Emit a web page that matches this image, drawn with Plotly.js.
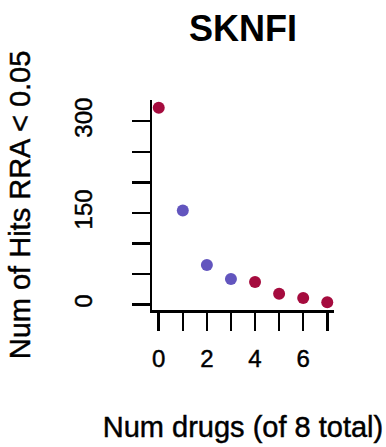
<!DOCTYPE html>
<html>
<head>
<meta charset="utf-8">
<script src="https://cdn.plot.ly/plotly-3.0.1.min.js"></script>
<style>
  html, body { margin: 0; padding: 0; background: #ffffff; }
  #chart { width: 386px; height: 447px; }
  /* slightly heavier strokes for the axis texts */
  #chart .xtick text, #chart .ytick text,
  #chart .xtitle, #chart .ytitle {
    stroke: #000000 !important;
    stroke-width: 0.45px !important;
  }
</style>
</head>
<body>
<div id="chart"></div>
<script>
// Number of drugs a gene is hit in, and how many genes reach RRA < 0.05
const numDrugs = [0, 1, 2, 3, 4, 5, 6, 7];
const numHits = [322, 154, 65, 42, 37, 18, 11, 4];
const pointGroup = ['edge', 'mid', 'mid', 'mid', 'edge', 'edge', 'edge', 'edge'];
const groupColors = { edge: '#A50B3E', mid: '#6255BE' };

const xTickVals = [0, 1, 2, 3, 4, 5, 6, 7];
const xTickText = ['0', '', '2', '', '4', '', '6', ''];
const yTickVals = [0, 50, 100, 150, 200, 250, 300];
const yTickText = ['0', '', '', '150', '', '', '300'];

const FONT = 'Liberation Sans, Arial, Helvetica, sans-serif';

const trace = {
  x: numDrugs,
  y: numHits,
  type: 'scatter',
  mode: 'markers',
  marker: {
    size: 12,
    color: pointGroup.map(g => groupColors[g]),
    line: { width: 0 }
  },
  hoverinfo: 'x+y'
};

const axisCommon = {
  showline: true,
  linecolor: '#000000',
  linewidth: 2.5,
  ticks: 'outside',
  ticklen: 18,
  tickwidth: 2.5,
  tickcolor: '#000000',
  showgrid: false,
  zeroline: false,
  tickmode: 'array',
  tickfont: { family: FONT, size: 24, color: '#000000' },
  fixedrange: true
};

const layout = {
  width: 386,
  height: 447,
  margin: { l: 152, r: 52, t: 100, b: 137, pad: 0 },
  paper_bgcolor: '#ffffff',
  plot_bgcolor: '#ffffff',
  showlegend: false,
  font: { family: FONT, color: '#000000' },
  title: {
    text: 'SKNFI',
    font: { family: FONT, size: 36, weight: 'bold', color: '#000000' },
    xref: 'paper', x: 0.5, xanchor: 'center',
    yref: 'container', y: 1 - 28 / 447, yanchor: 'middle'
  },
  xaxis: Object.assign({}, axisCommon, {
    range: [-0.28, 7.28],
    tickvals: xTickVals,
    ticktext: xTickText,
    ticklabelstandoff: 8,
    title: {
      text: 'Num drugs (of 8 total)',
      font: { family: FONT, size: 29, color: '#000000' },
      standoff: 46
    }
  }),
  yaxis: Object.assign({}, axisCommon, {
    range: [-8.7, 334.7],
    tickvals: yTickVals,
    ticktext: yTickText,
    tickangle: -90,
    ticklabelstandoff: 30,
    title: {
      text: 'Num of Hits RRA < 0.05',
      font: { family: FONT, size: 29, color: '#000000' },
      standoff: 31
    }
  })
};

Plotly.newPlot('chart', [trace], layout, { displayModeBar: false, staticPlot: true });
</script>
</body>
</html>
